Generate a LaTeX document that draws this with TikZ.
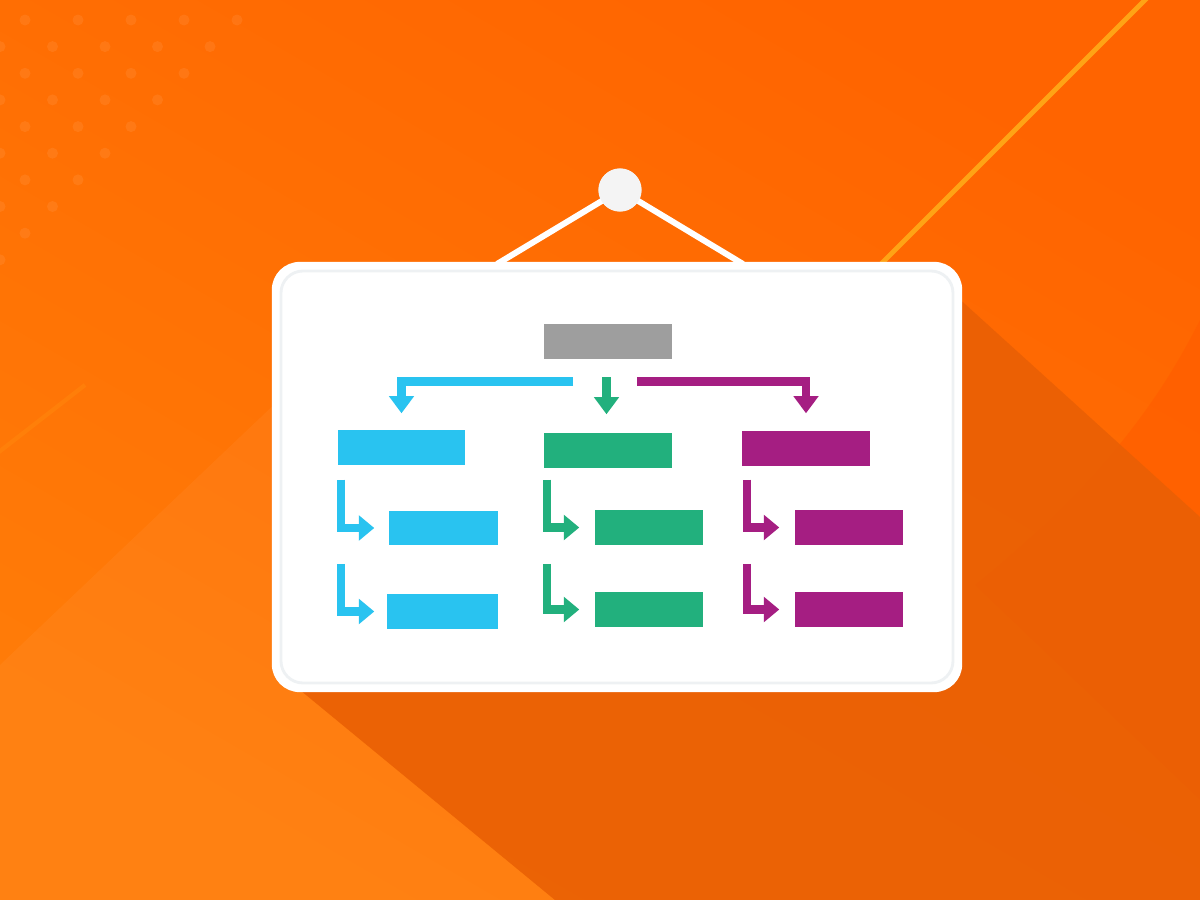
\documentclass[tikz,border=0pt]{standalone}
\usetikzlibrary{arrows.meta}
\definecolor{bgA}{HTML}{FF6400}
\definecolor{bgB}{HTML}{FF7C08}
\definecolor{shd}{HTML}{E85F05}
\definecolor{dk}{HTML}{FF5E00}
\definecolor{cy}{HTML}{29C3F0}
\definecolor{gr}{HTML}{22B07D}
\definecolor{mg}{HTML}{A51E82}
\definecolor{gy}{HTML}{9E9E9E}
\definecolor{rim}{HTML}{EEF1F3}
\definecolor{pinc}{HTML}{F4F4F4}
\definecolor{streak}{HTML}{FFA315}
\begin{document}
\begin{tikzpicture}[x=0.01cm,y=-0.01cm,
  blk/.style={fill=#1,inner sep=0pt,minimum height=0.35cm},
  arr/.style={draw=#1,line width=2.3pt,line cap=butt,-{Triangle[width=6.9pt,length=4.9pt]}},
  elb/.style={draw=#1,line width=2.3pt,line cap=butt,-{Triangle[width=7pt,length=4.4pt]}}]
\useasboundingbox (0,0) rectangle (1200,900);
% background
\fill[top color=bgA,bottom color=bgB,shading angle=-30] (0,0) rectangle (1200,900);
% soft facets
\fill[white,opacity=0.045] (0,665) -- (300,380) -- (300,690) -- (555,900) -- (0,900) -- cycle;
\fill[dk,opacity=0.7] (1200,320) .. controls (1150,420) and (1080,500) .. (975,585) -- (1200,800) -- cycle;
% shadow of the board
\fill[shd,opacity=0.85] (955,295) -- (1200,517) -- (1200,900) -- (555,900) -- (300,690) -- cycle;
% dots
\foreach \k in {0,...,4}{
  \pgfmathtruncatemacro{\n}{4-\k}
  \foreach \i in {0,...,\n}{
    \fill[white,opacity=0.07] (25+53*\i,20+53.3*\k) circle (5.5);
    \fill[white,opacity=0.07] (0+52.5*\i,46.6+53.3*\k) circle (5.5);
  }
}
% streaks
\draw[streak,line width=1.4pt] (1150,-5) -- (860,285);
\draw[streak,opacity=0.2,line width=1.2pt] (-5,455) -- (85,385);
% hanger
\node[circle,fill=pinc,minimum size=0.43cm,inner sep=0pt] (pin) at (620,190) {};
\coordinate (hl) at (497,264);
\coordinate (hr) at (743,264);
\draw[white,line width=1.7pt] (hl) -- (pin.center) -- (hr);
\node[circle,fill=pinc,minimum size=0.43cm,inner sep=0pt] at (pin) {};
% board
\node[fill=white,rounded corners=0.28cm,minimum width=6.9cm,minimum height=4.3cm,inner sep=0pt] (board) at (617,477) {};
\draw[rim,line width=0.8pt,rounded corners=0.22cm] (281,271) rectangle (953,683);
% boxes
\node[blk=gy,minimum width=1.28cm] (top) at (608,341.5) {};
\node[blk=cy,minimum width=1.27cm] (c1) at (401.5,447.5) {};
\node[blk=gr,minimum width=1.28cm] (g1) at (608,450.5) {};
\node[blk=mg,minimum width=1.28cm] (m1) at (806,448.5) {};
\node[blk=cy,minimum width=1.09cm,minimum height=0.34cm] (c2) at (443.5,528) {};
\node[blk=cy,minimum width=1.11cm] (c3) at (442.5,611.5) {};
\node[blk=gr,minimum width=1.08cm] (g2) at (649,527.5) {};
\node[blk=gr,minimum width=1.08cm] (g3) at (649,609.5) {};
\node[blk=mg,minimum width=1.08cm] (m2) at (849,527.5) {};
\node[blk=mg,minimum width=1.08cm] (m3) at (849,609.5) {};
% top connectors
\coordinate (cs) at (573,381.5);
\coordinate (ms) at (637,381.5);
\coordinate (gs) at (606.5,377);
\draw[arr=cy] (cs) -- (c1.north |- cs) -- ([yshift=0.16cm]c1.north);
\draw[arr=gr] (gs) -- ([yshift=0.18cm]gs |- g1.north);
\draw[arr=mg] (ms) -- (m1.north |- ms) -- ([yshift=0.17cm]m1.north);
% elbow connectors
\draw[elb=cy] ([xshift=0.04cm,yshift=-0.14cm]c1.south west) |- ([xshift=-0.14cm]c2.west);
\draw[elb=cy] ([xshift=0.04cm,yshift=-0.98cm]c1.south west) |- ([xshift=-0.12cm]c3.west);
\draw[elb=gr] ([xshift=0.04cm,yshift=-0.11cm]g1.south west) |- ([xshift=-0.15cm]g2.west);
\draw[elb=gr] ([xshift=0.04cm,yshift=-0.95cm]g1.south west) |- ([xshift=-0.15cm]g3.west);
\draw[elb=mg] ([xshift=0.06cm,yshift=-0.13cm]m1.south west) |- ([xshift=-0.15cm]m2.west);
\draw[elb=mg] ([xshift=0.06cm,yshift=-0.97cm]m1.south west) |- ([xshift=-0.15cm]m3.west);
\end{tikzpicture}
\end{document}
